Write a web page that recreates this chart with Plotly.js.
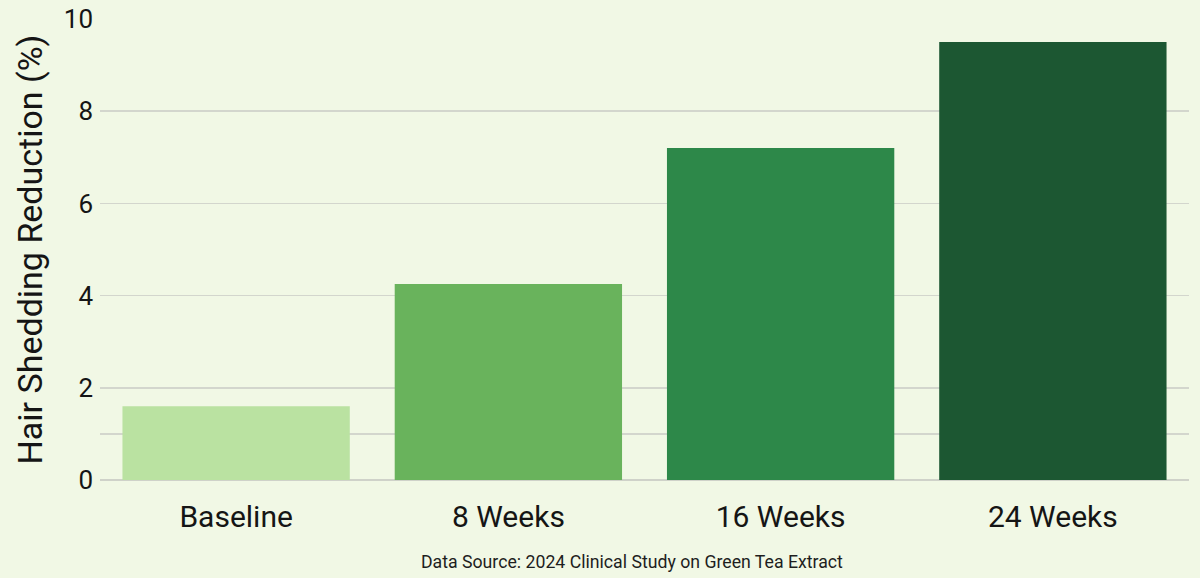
<!DOCTYPE html>
<html>
<head>
<meta charset="utf-8">
<script src="https://cdn.plot.ly/plotly-3.0.1.min.js"></script>
<style>html,body{margin:0;padding:0;background:#f1f8e5;}</style>
</head>
<body>
<div id="chart" style="width:1200px;height:578px;"></div>
<script>
const categories = ["Baseline", "8 Weeks", "16 Weeks", "24 Weeks"];
const reduction = [1.6, 4.25, 7.2, 9.5];
const barColors = ["#bae2a1", "#69b35c", "#2d8849", "#1c5732"];
const yTicks = [0, 2, 4, 6, 8, 10];
const sourceText = "Data Source: 2024 Clinical Study on Green Tea Extract";

const trace = {
  type: "bar",
  x: categories,
  y: reduction,
  marker: {color: barColors, line: {width: 0}},
  hoverinfo: "x+y"
};

const layout = {
  width: 1200,
  height: 578,
  margin: {l: 100, r: 11, t: 19, b: 98},
  paper_bgcolor: "#f1f8e5",
  plot_bgcolor: "#f1f8e5",
  bargap: 0.165,
  showlegend: false,
  font: {family: "Roboto, 'Open Sans', sans-serif", color: "#151515"},
  xaxis: {
    showgrid: false,
    showline: false,
    zeroline: false,
    ticks: "",
    tickfont: {size: 30, color: "#151515"},
    ticklabelstandoff: 16
  },
  yaxis: {
    range: [0, 10],
    tickvals: yTicks,
    showgrid: true,
    gridcolor: "#d3d6cd",
    gridwidth: 1.5,
    zeroline: true,
    zerolinecolor: "#cfd2c9",
    zerolinewidth: 2,
    showline: false,
    ticks: "",
    tickfont: {size: 26, color: "#151515"},
    ticklabelstandoff: 6,
    minor: {tickvals: [1], showgrid: true, gridcolor: "#d3d6cd", gridwidth: 1.5},
    title: {text: "Hair Shedding Reduction (%)", font: {size: 34, color: "#151515"}, standoff: 10}
  },
  annotations: [{
    text: sourceText,
    xref: "paper", yref: "paper",
    x: 0.4885, y: -0.178,
    xanchor: "center", yanchor: "middle",
    showarrow: false,
    font: {size: 17.7, color: "#1e1e1e"}
  }]
};

Plotly.newPlot("chart", [trace], layout, {displayModeBar: false, staticPlot: true});
</script>
</body>
</html>
